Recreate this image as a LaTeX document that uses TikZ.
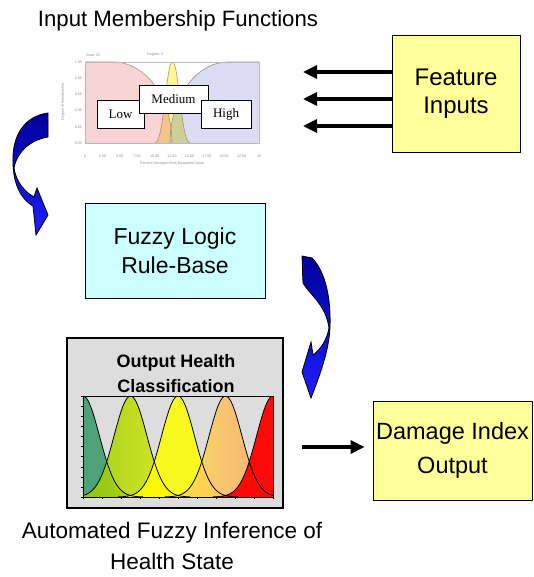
\documentclass[tikz,border=0pt]{standalone}
\usepackage{fontspec}
\setmainfont{Liberation Sans}
\newfontfamily\serifL{Liberation Serif}
\usetikzlibrary{arrows.meta}
\definecolor{featyellow}{HTML}{FFFF99}
\definecolor{rulecyan}{HTML}{CCFFFF}
\definecolor{panelgray}{HTML}{DDDDDD}
\definecolor{pinkfill}{HTML}{F8D4D4}
\definecolor{lavfill}{HTML}{DCDCF6}
\definecolor{medyellow}{HTML}{FFF78F}
\definecolor{ovorange}{HTML}{F4C48A}
\definecolor{ovgreen}{HTML}{CFCF9A}
\definecolor{curvegray}{HTML}{A09484}
\definecolor{hgreen}{HTML}{339966}
\definecolor{hygA}{HTML}{99CC00}
\definecolor{hygB}{HTML}{E4F000}
\definecolor{hyel}{HTML}{FFFF00}
\definecolor{horA}{HTML}{FFE050}
\definecolor{horB}{HTML}{FFA866}
\definecolor{hred}{HTML}{FF0000}
\definecolor{arrowdark}{HTML}{00009C}
\definecolor{arrowbright}{HTML}{1E1EFF}
\definecolor{axisgray}{HTML}{8A8A8A}
\tikzset{
  plainbox/.style={draw=black, line width=0.9pt, inner sep=0pt, align=center},
  fatarrow/.style={line width=3.2pt, -{Triangle[length=14pt,width=13pt]}},
  mlabel/.style={draw=black, fill=white, line width=0.8pt, inner sep=0pt, font=\serifL\fontsize{13}{15}\selectfont},
  tinytext/.style={text=axisgray, font=\fontsize{3.6}{4}\selectfont, inner sep=0pt},
  bentarrow/.style={top color=arrowdark, bottom color=arrowbright, draw=black, line width=0.8pt},
  bellline/.style={draw=black, line width=0.8pt},
  declare function={hb(\x,\c)=497-101*exp(-0.5*((\x-\c)/16.4)*((\x-\c)/16.4));}
}
\begin{document}
\begin{tikzpicture}[x=1pt,y=-1pt]
\useasboundingbox (0,0) rectangle (533,577);

% ---------- title ----------
\node[anchor=base, font=\fontsize{22.2}{26}\selectfont, inner sep=0pt] (ttl) at (178,27) {Input Membership Functions};

% ---------- membership chart ----------
\node[tinytext, anchor=west] (mdata) at (86,55) {Data: 25};
\node[tinytext, anchor=west] (mdeg) at (147,55) {Degree: 0};
\fill[pinkfill] (85,62) -- (113,62) .. controls (146,62) and (172,98) .. (172,143) -- (85,143) -- cycle;
\fill[lavfill] (170,143) .. controls (170,98) and (196,62) .. (228,62) -- (259,62) -- (259,143) -- cycle;
\fill[medyellow] (155,143) .. controls (164,143) and (166,62) .. (172.5,62) .. controls (179,62) and (181,143) .. (190,143) -- cycle;
\begin{scope}
  \clip (85,62) -- (113,62) .. controls (146,62) and (172,98) .. (172,143) -- (85,143) -- cycle;
  \fill[ovorange] (155,143) .. controls (164,143) and (166,62) .. (172.5,62) .. controls (179,62) and (181,143) .. (190,143) -- cycle;
\end{scope}
\begin{scope}
  \clip (170,143) .. controls (170,98) and (196,62) .. (228,62) -- (259,62) -- (259,143) -- cycle;
  \fill[ovgreen] (155,143) .. controls (164,143) and (166,62) .. (172.5,62) .. controls (179,62) and (181,143) .. (190,143) -- cycle;
\end{scope}
\draw[curvegray, line width=0.6pt] (85,62) -- (113,62) .. controls (146,62) and (172,98) .. (172,143);
\draw[curvegray, line width=0.6pt] (170,143) .. controls (170,98) and (196,62) .. (228,62) -- (259,62);
\draw[curvegray, line width=0.6pt] (155,143) .. controls (164,143) and (166,62) .. (172.5,62) .. controls (179,62) and (181,143) .. (190,143);
\draw[axisgray!60, line width=0.4pt] (85,62) rectangle (259,143);
\foreach \v [count=\i from 0] in {1.00,0.80,0.60,0.40,0.20,0.00}{
  \node[tinytext, anchor=east] (my\i) at (82,62+16.2*\i) {\v};
}
\foreach \v [count=\i from 0] in {0,2.50,5.00,7.50,10.00,12.50,15.00,17.50,20.00,22.50,25}{
  \node[tinytext] (mx\i) at (85+17.4*\i,156) {\v};
}
\node[tinytext] (mxt) at (172,164) {Percent Deviation from Bisquoted Value};
\node[tinytext, rotate=90] (myt) at (63,102) {Degree of Membership};
\node[mlabel, minimum width=47pt, minimum height=28pt] (low) at (120.5,114) {Low};
\node[mlabel, minimum width=69pt, minimum height=28pt] (med) at (173.5,99) {Medium};
\node[mlabel, minimum width=50pt, minimum height=28pt] (high) at (226,114) {High};

% ---------- feature inputs ----------
\node[plainbox, fill=featyellow, minimum width=128pt, minimum height=117pt,
      font=\fontsize{24}{28}\selectfont] (feat) at (456,93.5) {Feature\\Inputs};
\coordinate (in1) at (303,72);
\coordinate (in2) at (303,99);
\coordinate (in3) at (303,126);
\draw[fatarrow] (feat.west |- in1) -- (in1);
\draw[fatarrow] (feat.west |- in2) -- (in2);
\draw[fatarrow] (feat.west |- in3) -- (in3);

% ---------- left bent arrow ----------
\shadedraw[bentarrow] (48,113) .. controls (25,116) and (12,135) .. (13,162)
  .. controls (13,185) and (22,200) .. (33,206)
  -- (36,235) -- (48,215) -- (37,188) -- (34,197)
  .. controls (25,192) and (16,182) .. (14,168)
  .. controls (17,152) and (30,140) .. (48,137) -- cycle;

% ---------- rule base ----------
\node[plainbox, fill=rulecyan, minimum width=180pt, minimum height=95pt,
      font=\fontsize{23}{29}\selectfont] (rule) at (175,250.5) {Fuzzy Logic\\Rule-Base};

% ---------- right bent arrow ----------
\shadedraw[bentarrow] (302,256) -- (312,258) .. controls (326,272) and (331,300) .. (330,327)
  .. controls (329,350) and (321,372) .. (311,398)
  -- (302,372) -- (311,342) -- (313,355)
  .. controls (320,350) and (327,340) .. (329,328)
  .. controls (326,305) and (310,295) .. (303,283) -- cycle;

% ---------- output health classification ----------
\node[draw=black, line width=1.2pt, fill=panelgray, minimum width=216pt, minimum height=170pt, inner sep=0pt] (outbox) at (175,423) {};
\node[anchor=base, font=\bfseries\fontsize{18}{22}\selectfont, inner sep=0pt] (oh1) at (176,367) {Output Health};
\node[anchor=base, font=\bfseries\fontsize{18}{22}\selectfont, inner sep=0pt] (oh2) at (176,392) {Classification};
\begin{scope}
  \clip (83,396) rectangle (273,497);
  \fill[hgreen, fill opacity=0.85] (83,497) -- plot[domain=83:143, samples=40] (\x,{hb(\x,83)}) -- (143,497) -- cycle;
  \shade[left color=hygA, right color=hygB, fill opacity=0.85] (83,497) -- plot[domain=83:190, samples=60] (\x,{hb(\x,130.5)}) -- (190,497) -- cycle;
  \fill[hyel, fill opacity=0.85] (118,497) -- plot[domain=118:238, samples=60] (\x,{hb(\x,178)}) -- (238,497) -- cycle;
  \shade[left color=horA, right color=horB, fill opacity=0.85] (165,497) -- plot[domain=165:273, samples=60] (\x,{hb(\x,225.5)}) -- (273,497) -- cycle;
  \fill[hred, fill opacity=0.95] (213,497) -- plot[domain=213:273, samples=40] (\x,{hb(\x,273)}) -- (273,497) -- cycle;
  \draw[bellline] plot[domain=83:143, samples=40] (\x,{hb(\x,83)});
  \draw[bellline] plot[domain=83:190, samples=60] (\x,{hb(\x,130.5)});
  \draw[bellline] plot[domain=118:238, samples=60] (\x,{hb(\x,178)});
  \draw[bellline] plot[domain=165:273, samples=60] (\x,{hb(\x,225.5)});
  \draw[bellline] plot[domain=213:273, samples=40] (\x,{hb(\x,273)});
\end{scope}
\draw[black, line width=0.8pt] (83,396) -- (273,396) -- (273,497);
\draw[black, line width=0.6pt] (83,396) -- (83,497) -- (273,497);
\foreach \i in {0,...,10}{ \draw[black, line width=0.3pt] (81,396+10.1*\i) -- (83,396+10.1*\i); }
\foreach \i in {0,...,10}{ \draw[black, line width=0.3pt] (83+19*\i,497) -- (83+19*\i,499); }

% ---------- damage index output ----------
\node[plainbox, fill=featyellow, minimum width=159pt, minimum height=99pt,
      font=\fontsize{23.5}{34}\selectfont] (dmg) at (452.5,450.5) {Damage Index\\Output};
\coordinate (dstart) at (302,447);
\draw[fatarrow, shorten >=8pt] (dstart) -- (dmg.west |- dstart);

% ---------- caption ----------
\node[anchor=base, font=\fontsize{22.5}{26}\selectfont, inner sep=0pt] (cap1) at (172,538) {Automated Fuzzy Inference of};
\node[anchor=base, font=\fontsize{22.5}{26}\selectfont, inner sep=0pt] (cap2) at (172,569) {Health State};
\end{tikzpicture}
\end{document}
